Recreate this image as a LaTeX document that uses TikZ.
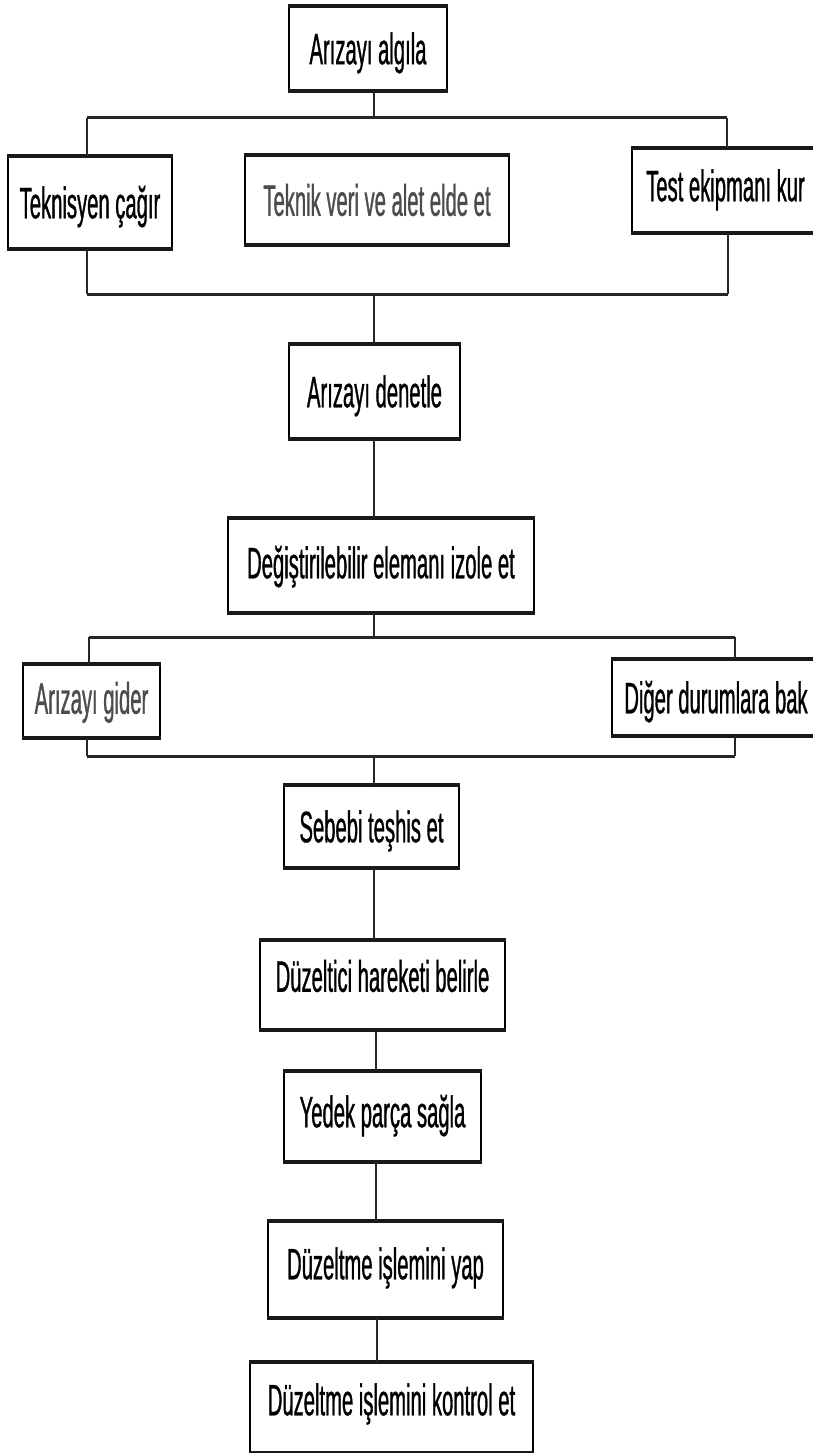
\documentclass[tikz,border=0pt]{standalone}
\usepackage{fontspec}
\newfontfamily\narrowsans[FakeStretch=0.46,FakeBold=0.7]{Liberation Sans}
\begin{document}
\begin{tikzpicture}[x=1pt,y=-1pt,
  stepbox/.style={draw=black,line width=2pt,fill=white,inner sep=0pt,
    font=\narrowsans\fontsize{44pt}{50pt}\selectfont,
    text height=31.5pt,text depth=0pt,align=center},
  rim/.style={line width=3.6pt,draw=black!90},
  link/.style={line width=1.5pt,draw=black!85},
  bar/.style={line width=3pt,draw=black!85}]
\useasboundingbox (0,0) rectangle (813,1453);
\clip (0,0) rectangle (813,1453);

% process boxes
\node[stepbox,minimum width=158pt,minimum height=83pt] (a1) at (368,48.5) {Arızayı algıla};
\node[stepbox,minimum width=164pt,minimum height=91pt] (tek) at (90,202.5) {Teknisyen çağır};
\node[stepbox,minimum width=264pt,minimum height=88pt,text=black!70] (ver) at (377,200) {Teknik veri ve alet elde et};
\node[stepbox,minimum width=187pt,minimum height=83pt,text depth=10pt] (test) at (725.5,190.5) {Test ekipmanı kur};
\node[stepbox,minimum width=171pt,minimum height=93pt] (den) at (374.5,391.5) {Arızayı denetle};
\node[stepbox,minimum width=306pt,minimum height=93pt,text depth=6pt] (izo) at (381,565.5) {Değiştirilebilir elemanı izole et};
\node[stepbox,minimum width=137pt,minimum height=72pt,text=black!70,text depth=6pt] (gid) at (91.5,701) {Arızayı gider};
\node[stepbox,minimum width=208pt,minimum height=75pt] (dig) at (716,697.5) {Diğer durumlara bak};
\node[stepbox,minimum width=175pt,minimum height=81pt] (seb) at (371.5,826.5) {Sebebi teşhis et};
\node[stepbox,minimum width=245pt,minimum height=88pt,text depth=18pt] (duz) at (382.5,985) {Düzeltici hareketi belirle};
\node[stepbox,minimum width=197pt,minimum height=89pt,text depth=10pt] (yed) at (382.5,1116.5) {Yedek parça sağla};
\node[stepbox,minimum width=235pt,minimum height=95pt,text depth=12pt] (yap) at (385.5,1269.5) {Düzeltme işlemini yap};
\node[stepbox,minimum width=283pt,minimum height=89pt,text depth=16pt] (kon) at (391.5,1407.5) {Düzeltme işlemini kontrol et};

% heavier top and bottom edges of every box
\foreach \n in {a1,tek,ver,test,den,izo,gid,dig,seb,duz,yed,yap,kon}
  \draw[rim] (\n.north west) -- (\n.north east) (\n.south west) -- (\n.south east);

% junction points of the branch bars
\coordinate (s1) at (374,118);
\coordinate (b1L) at (87,118);
\coordinate (b1R) at (727,118);
\coordinate (b2L) at (87,294);
\coordinate (b2R) at (728,294);
\coordinate (s2) at (374,294);
\coordinate (s3) at (374,637);
\coordinate (b3L) at (89,637);
\coordinate (b3R) at (735,637);
\coordinate (b4L) at (87,756);
\coordinate (b4R) at (735,756);
\coordinate (s4) at (374,756);

% first branch
\draw[link] (s1 |- a1.south) -- (s1);
\draw[bar] (b1L) -- (b1R);
\draw[link] (b1L) -- (b1L |- tek.north);
\draw[link] (b1R) -- (b1R |- test.north);
\draw[link] (b2L |- tek.south) -- (b2L);
\draw[link] (b2R |- test.south) -- (b2R);
\draw[bar] (b2L) -- (b2R);
\draw[link] (s2) -- (s2 |- den.north);
\draw[link] (s2 |- den.south) -- (s2 |- izo.north);

% second branch
\draw[link] (s3 |- izo.south) -- (s3);
\draw[bar] (b3L) -- (b3R);
\draw[link] (b3L) -- (b3L |- gid.north);
\draw[link] (b3R) -- (b3R |- dig.north);
\draw[link] (b4L |- gid.south) -- (b4L);
\draw[link] (b4R |- dig.south) -- (b4R);
\draw[bar] (b4L) -- (b4R);
\draw[link] (s4) -- (s4 |- seb.north);

% final chain
\draw[link] (374,0 |- seb.south) -- (374,0 |- duz.north);
\draw[link] (376,0 |- duz.south) -- (376,0 |- yed.north);
\draw[link] (376,0 |- yed.south) -- (376,0 |- yap.north);
\draw[link] (377,0 |- yap.south) -- (377,0 |- kon.north);
\end{tikzpicture}
\end{document}
